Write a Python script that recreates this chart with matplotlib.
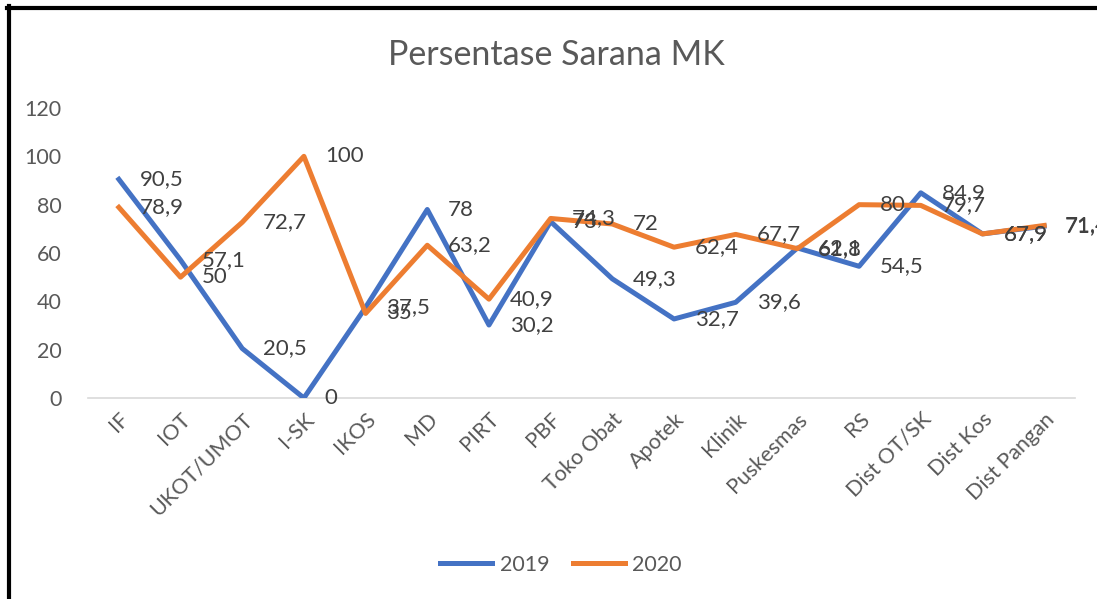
import matplotlib.pyplot as plt
from matplotlib.lines import Line2D

categories = ["IF", "IOT", "UKOT/UMOT", "I-SK", "IKOS", "MD", "PIRT", "PBF",
              "Toko Obat", "Apotek", "Klinik", "Puskesmas", "RS", "Dist OT/SK",
              "Dist Kos", "Dist Pangan"]
values_2019 = [90.5, 57.1, 20.5, 0, 37.5, 78, 30.2, 73, 49.3, 32.7, 39.6, 62.1, 54.5, 84.9, 67.9, 71.1]
values_2020 = [78.9, 50, 72.7, 100, 35, 63.2, 40.9, 74.3, 72, 62.4, 67.7, 61.8, 80, 79.7, 67.9, 71.4]
y_ticks = [0, 20, 40, 60, 80, 100, 120]

plt.rcParams['font.family'] = ['Lato', 'DejaVu Sans']


def fmt(v):
    # Excel-style comma decimal
    if float(v).is_integer():
        return str(int(v))
    return f"{v}".replace(".", ",")


W, H = 1097, 599
fig = plt.figure(figsize=(W / 100, H / 100), dpi=100)
ax = fig.add_axes([88 / W, 1 - 398 / H, (1075 - 88) / W, (398 - 108) / H])

x = list(range(len(categories)))
ax.plot(x, values_2019, color="#4472C4", lw=3.6, label="2019", solid_joinstyle="round")
ax.plot(x, values_2020, color="#ED7D31", lw=3.6, label="2020", solid_joinstyle="round")

# data labels to the right of each point
for series in (values_2019, values_2020):
    for xi, v in zip(x, series):
        ax.annotate(fmt(v), (xi, v), xytext=(15, 0), textcoords="offset points",
                    ha="left", va="center", fontsize=16, color="#404040")

ax.set_xlim(-0.5, len(categories) - 0.5)
ax.set_ylim(0, 120)
ax.set_yticks(y_ticks)
ax.set_xticks(x)
ax.set_xticklabels(categories, rotation=45, ha="right", va="top",
                   rotation_mode="anchor", fontsize=15.5, color="#595959")
ax.tick_params(axis="y", length=0, pad=19, labelsize=15.5, labelcolor="#595959")
ax.tick_params(axis="x", length=0, pad=8)

for side in ("top", "right", "left"):
    ax.spines[side].set_visible(False)
ax.spines["bottom"].set_color("#D9D9D9")
ax.spines["bottom"].set_linewidth(1.2)
ax.spines["bottom"].set_zorder(0)

fig.text(556 / W, 1 - 55 / H, "Persentase Sarana MK", ha="center", va="center",
         fontsize=24.5, color="#595959")

fig.legend(loc="center", bbox_to_anchor=(561 / W, 1 - 565 / H), ncol=2,
           frameon=False, fontsize=15.5, handlelength=2.4, columnspacing=1.1,
           handletextpad=0.35, labelcolor="#595959")

# black frame around the picture (top and left edges visible)
fig.add_artist(Line2D([7 / W, 1], [1 - 7.5 / H, 1 - 7.5 / H], color="black", lw=3,
                      transform=fig.transFigure))
fig.add_artist(Line2D([9 / W, 9 / W], [0, 1 - 6 / H], color="black", lw=3,
                      transform=fig.transFigure))

fig.savefig("out.png", dpi=100)
